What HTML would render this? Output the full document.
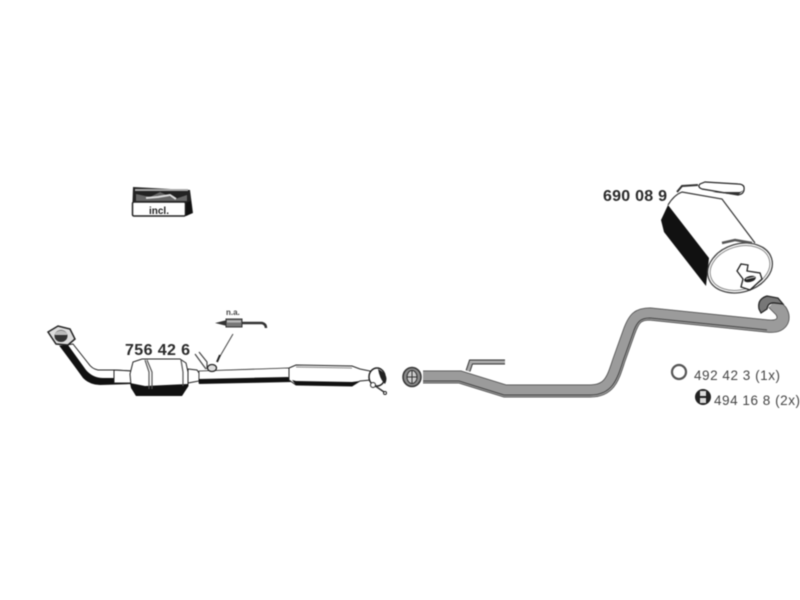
<!DOCTYPE html>
<html><head><meta charset="utf-8"><style>
html,body{margin:0;padding:0;background:#fff;width:800px;height:600px;overflow:hidden}
svg{display:block;filter:blur(0.55px)}
text{font-family:"Liberation Sans",sans-serif}
</style></head><body>
<svg width="800" height="600" viewBox="0 0 800 600" xmlns="http://www.w3.org/2000/svg">
<!-- incl box -->
<path d="M133 187 L190 190 L193 213 L186 216 L132 216 Z" fill="#222"/>
<path d="M135 189 H188 V191 H135 Z" fill="#aaa"/>
<path d="M136 194 L150 197 L160 192 L175 199 L187 195 L187 201 L136 201 Z" fill="#666"/>
<path d="M146 198 L158 197 L170 195 L176 199" fill="none" stroke="#ddd" stroke-width="2"/>
<rect x="132.500" y="202" width="53" height="14" rx="1.500" fill="#fff" stroke="#222" stroke-width="1.500"/>
<path d="M186 203 L191 201 L192 213 L186 216 Z" fill="#111"/>
<text x="159" y="214" font-size="10" font-weight="bold" text-anchor="middle" fill="#222">incl.</text>

<!-- front section -->
<path d="M60 346 L84 378 Q90 384 100 384 L132 383 L132 371 L115 370 L98 370 Q92 369 88 363 L73 344 Z" fill="#fff" stroke="#222" stroke-width="1"/>
<path d="M60 346 L83 378 Q90 385 100 385 L132 384 L132 378 L103 378 Q93 378 86 370 L68 345 Z" fill="#111"/>
<path d="M48 332 L58 326 L70 329 L75 339 L68 345 L56 344 Z" fill="#ddd" stroke="#222" stroke-width="1.500"/>
<ellipse cx="61" cy="336" rx="6.500" ry="6" fill="#333"/>
<path d="M55 333 Q61 328 67 333 L67 335 L55 335 Z" fill="#bbb"/>
<path d="M114 370 L132 371 L132 383 L114 383 Z" fill="#fff" stroke="#222"/>
<!-- cat -->
<path d="M130 374 L133 362 L142 359 L180 359 L186 363 L188 372 L188 386 L182 395 L136 395 L131 385 Z" fill="#fff" stroke="#222" stroke-width="1"/>
<path d="M130 383 L145 386 L188 384 L188 386 L182 396 L136 396 L131 388 Z" fill="#111"/>
<path d="M145 360 L149 372 L149 389 M147 360 L152 372 L152 389 M181 360 L183 372 L183 386" fill="none" stroke="#555" stroke-width="1.200"/>
<path d="M188 369 L197 370 L199 373 L199 381 L188 383 Z" fill="#fff" stroke="#222"/>
<path d="M195 354 L203 365 L206 369 M199 352 L207 362 L207 369" fill="none" stroke="#444" stroke-width="1.200"/>
<path d="M199 371 L288 368 L293 370 L293 381 L288 380 L199 383 Z" fill="#fff" stroke="#222" stroke-width="0.800"/>
<path d="M199 379 L288 377 L292 380 L292 382 L199 384 Z" fill="#111"/>
<ellipse cx="212" cy="368" rx="4.500" ry="3.500" fill="#ddd" stroke="#222" stroke-width="1.300"/>
<!-- muffler front -->
<path d="M289 368 L296 365 L352 366 L360 369 L370 371 L371 380 L360 381 L352 386 L296 385 L289 380 Z" fill="#fff" stroke="#222" stroke-width="1"/>
<path d="M292 380 L296 385 L352 386 L360 381 L352 382 L296 381 Z" fill="#111"/>
<path d="M296 367 L352 368" stroke="#888" stroke-width="1"/>
<!-- rear flange -->
<ellipse cx="377" cy="377" rx="8" ry="9" fill="#fff" stroke="#222" stroke-width="1.500"/>
<path d="M378 369 Q390 375 385 384 Q380 380 378 369 Z" fill="#222"/>
<path d="M371 383 L384 392" stroke="#333" stroke-width="1.500"/>
<circle cx="373" cy="385" r="2.500" fill="#fff" stroke="#222"/>
<circle cx="385" cy="393" r="1.500" fill="#fff" stroke="#222"/>

<text x="125" y="355" font-size="16" font-weight="bold" fill="#2a2a2a" textLength="65">756 42 6</text>

<!-- sensor -->
<text x="226" y="315" font-size="8" font-weight="bold" fill="#444">n.a.</text>
<path d="M215 323 L227 320 L227 326 Z" fill="#333"/>
<rect x="226" y="319" width="16" height="8" fill="#777" stroke="#333"/>
<path d="M227 321.500 H241" stroke="#bbb" stroke-width="2"/>
<path d="M242 323 H262 Q266 324 266 328" fill="none" stroke="#333" stroke-width="2.500"/>
<path d="M233 334 L219 358" stroke="#444" stroke-width="1"/>
<path d="M220 355 L217 362" stroke="#222" stroke-width="2"/>

<!-- mid pipe -->
<path d="M468 371 L471 362 H505" fill="none" stroke="#333" stroke-width="5"/>
<path d="M468 371 L471 362 H505" fill="none" stroke="#aaa" stroke-width="3"/>
<path d="M423 377 H460 L505 391 H590 C610 391 613 378 619 360 L629 332 C634 318 638 314 650 314 L767 326 C782 328 786 319 781 311 L773 303" fill="none" stroke="#444" stroke-width="13"/>
<path d="M423 377 H460 L505 391 H590 C610 391 613 378 619 360 L629 332 C634 318 638 314 650 314 L767 326 C782 328 786 319 781 311 L773 303" fill="none" stroke="#9b9b9b" stroke-width="11.500"/>
<path d="M423 381 H459 L504 395 H590 C612 395 617 380 623 361 L633 333 C637 321 641 318 650 318 L767 330" fill="none" stroke="#444" stroke-width="1"/>
<ellipse cx="412" cy="377" rx="9" ry="9.500" fill="#888" stroke="#333" stroke-width="1.500"/>
<ellipse cx="412" cy="377" rx="5" ry="6.500" fill="#ccc" stroke="#333"/>
<path d="M407 377 H417 M412 371 V383" stroke="#333"/>
<path d="M759 309 Q757 299 767 296 L778 298 L783 304 L775 303 Q768 302 767 309 L761 313 Z" fill="#777" stroke="#222" stroke-width="1.200"/>

<!-- rear muffler -->
<path d="M667 205 L680 191 L722 199 L756 243 L770 262 L715 292 L700 285 L664 233 Q659 222 667 205 Z" fill="#fff"/>
<path d="M668 205 L661 220 L664 232 L706 286 L709 258 Z" fill="#111"/>
<path d="M668 205 Q674 195 682 192 L722 199 L755 243" fill="none" stroke="#333" stroke-width="1.200"/>
<ellipse cx="740" cy="268" rx="33" ry="24" transform="rotate(-17 740 268)" fill="#fff" stroke="#444" stroke-width="1.300"/>
<ellipse cx="740" cy="268" rx="30.500" ry="21.500" transform="rotate(-17 740 268)" fill="#fff" stroke="#888" stroke-width="1"/>
<path d="M722 243 L735 240 L752 243" fill="none" stroke="#555" stroke-width="2.500"/>
<path d="M677 192 L682 186 L698 185" fill="none" stroke="#333" stroke-width="2"/>
<path d="M700 184 Q697 187 702 189 L738 195 Q745 194 744 187 Q743 184 738 184 L705 182 Z" fill="#fff" stroke="#222" stroke-width="1.200"/>
<path d="M712 192 L738 195 L744 190 L740 192 Z" fill="#333"/>
<path d="M737 271 L741 264 L748 265 L747 271 L760 273 L762 279 L750 290 L741 287 L743 279 Z" fill="#fff" stroke="#222" stroke-width="1.300"/>
<ellipse cx="750" cy="279" rx="6" ry="3" transform="rotate(-15 750 279)" fill="#222"/>
<path d="M746 279 L755 277" stroke="#ccc" stroke-width="1"/>
<text x="603" y="201" font-size="16" font-weight="bold" fill="#2a2a2a" textLength="64">690 08 9</text>

<!-- legend -->
<circle cx="679" cy="372" r="7" fill="#fff" stroke="#555" stroke-width="2.200"/>
<text x="694" y="380" font-size="13.500" fill="#444" textLength="86">492 42 3 (1x)</text>
<circle cx="703" cy="397" r="8" fill="#222"/>
<rect x="700" y="391" width="6" height="5" fill="#ddd"/>
<rect x="700" y="398" width="6" height="5" fill="#ddd"/>
<text x="714" y="405" font-size="13.500" fill="#444" textLength="86">494 16 8 (2x)</text>
</svg>
</body></html>
